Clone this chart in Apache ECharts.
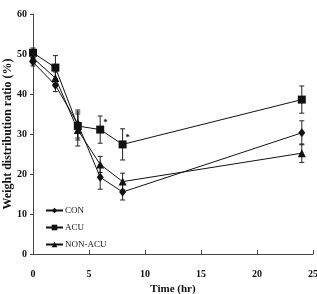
<!DOCTYPE html>
<html>
<head>
<meta charset="utf-8">
<script src="https://cdn.jsdelivr.net/npm/echarts@6/dist/echarts.min.js"></script>
<style>
  html, body { margin: 0; padding: 0; background: #fff; }
  #chart { width: 317px; height: 294px; }
</style>
</head>
<body>
<div id="chart"></div>
<script>
// time points (hr)
const times = [0, 2, 4, 6, 8, 24];

const conMean = [48, 42.2, 32.5, 19.2, 15.5, 30.3];
const conErr = [1, 1.6, 3.5, 3, 2, 3];

const acuMean = [50.3, 46.6, 32, 31.1, 27.4, 38.6];
const acuErr = [1.2, 3, 3.5, 3.4, 3.9, 3.4];
const acuSig = [false, false, false, true, true, false];

const nonAcuMean = [49, 44, 31, 22.4, 18.1, 25.2];
const nonAcuErr = [1, 1.5, 4, 2, 2.1, 2.3];

const xTicks = [0, 5, 10, 15, 20, 25];
const yTicks = [0, 10, 20, 30, 40, 50, 60];

const serif = "'Liberation Serif', 'Times New Roman', serif";

const chart = echarts.init(document.getElementById("chart"));

const errorData = (means, errs) =>
    times.map((t, i) => [t, means[i] - errs[i], means[i] + errs[i]]);

const errorSeries = (name, means, errs) => ({
    name: name + " error",
    type: "custom",
    z: 1,
    silent: true,
    renderItem: (params, api) => {
        const top = api.coord([api.value(0), api.value(2)]);
        const bottom = api.coord([api.value(0), api.value(1)]);
        const cap = 2.5;
        const style = { stroke: "#222", lineWidth: 1 };
        return {
            type: "group",
            children: [
                { type: "line", shape: { x1: top[0], y1: top[1], x2: bottom[0], y2: bottom[1] }, style },
                { type: "line", shape: { x1: top[0] - cap, y1: top[1], x2: top[0] + cap, y2: top[1] }, style },
                { type: "line", shape: { x1: bottom[0] - cap, y1: bottom[1], x2: bottom[0] + cap, y2: bottom[1] }, style },
            ],
        };
    },
    data: errorData(means, errs),
});

const lineSeries = (name, means, symbol, size, sig) => ({
    name: name,
    type: "line",
    z: 3,
    symbol: symbol,
    symbolSize: size,
    lineStyle: { color: "#111", width: 1 },
    itemStyle: { color: "#111" },
    data: times.map((t, i) => {
        const item = { value: [t, means[i]] };
        if (sig && sig[i]) {
            item.label = {
                show: true,
                formatter: "*",
                position: [7, -7],
                fontFamily: serif,
                fontSize: 9,
                fontWeight: "bold",
                color: "#111",
            };
        }
        return item;
    }),
});

const option = {
    animation: false,
    grid: { left: 33, right: 4, top: 14, bottom: 40, outerBoundsMode: "none" },
    legend: {
        orient: "vertical",
        left: 40,
        top: 201,
        itemWidth: 17,
        itemHeight: 7,
        itemGap: 8,
        data: ["CON", "ACU", "NON-ACU"],
        textStyle: { fontFamily: serif, fontSize: 9, color: "#111", padding: [0, 0, 0, -3] },
    },
    xAxis: {
        type: "value",
        min: xTicks[0],
        max: xTicks[xTicks.length - 1],
        interval: 5,
        name: "Time (hr)",
        nameLocation: "middle",
        nameGap: 30,
        nameMoveOverlap: false,
        nameTextStyle: { fontFamily: serif, fontSize: 11, fontWeight: "bold", color: "#111" },
        axisLine: { lineStyle: { color: "#444", width: 1 } },
        axisTick: { inside: true, length: 4, lineStyle: { color: "#444" } },
        axisLabel: { margin: 15, fontFamily: serif, fontSize: 10, fontWeight: "bold", color: "#111" },
        splitLine: { show: false },
    },
    yAxis: {
        type: "value",
        min: yTicks[0],
        max: yTicks[yTicks.length - 1],
        interval: 10,
        name: "Weight distribution ratio (%)",
        nameLocation: "middle",
        nameGap: 19,
        nameRotate: 90,
        nameMoveOverlap: false,
        nameTextStyle: { fontFamily: serif, fontSize: 12, fontWeight: "bold", color: "#111" },
        axisLine: { show: true, lineStyle: { color: "#444", width: 1 } },
        axisTick: { show: true, length: 3, lineStyle: { color: "#444" } },
        axisLabel: { margin: 6, fontFamily: serif, fontSize: 10, fontWeight: "bold", color: "#111" },
        splitLine: { show: false },
    },
    series: [
        errorSeries("CON", conMean, conErr),
        errorSeries("ACU", acuMean, acuErr),
        errorSeries("NON-ACU", nonAcuMean, nonAcuErr),
        lineSeries("CON", conMean, "diamond", [7, 9]),
        lineSeries("ACU", acuMean, "rect", 8, acuSig),
        lineSeries("NON-ACU", nonAcuMean, "triangle", 8),
    ],
};

chart.setOption(option);

window.addEventListener("resize", () => {
    chart.resize();
});
</script>
</body>
</html>
